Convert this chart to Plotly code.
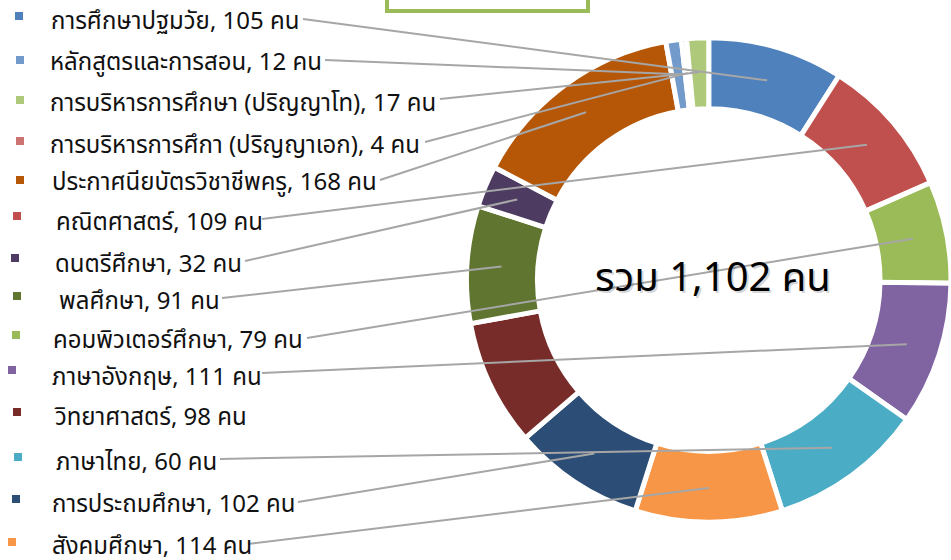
import math
import plotly.graph_objects as go

# ---------------- data ----------------
# label rows (left column, top to bottom) and the counts written in the labels
label_categories = [
    "การศึกษาปฐมวัย", "หลักสูตรและการสอน", "การบริหารการศึกษา (ปริญญาโท)",
    "การบริหารการศึกา (ปริญญาเอก)", "ประกาศนียบัตรวิชาชีพครู", "คณิตศาสตร์",
    "ดนตรีศึกษา", "พลศึกษา", "คอมพิวเตอร์ศึกษา", "ภาษาอังกฤษ",
    "วิทยาศาสตร์", "ภาษาไทย", "การประถมศึกษา", "สังคมศึกษา",
]
label_counts = [105, 12, 17, 4, 168, 109, 32, 91, 79, 111, 98, 60, 102, 114]

# slices of the ring, clockwise from 12 o'clock (values as drawn in the ring)
slice_categories = [
    "การศึกษาปฐมวัย", "คณิตศาสตร์", "คอมพิวเตอร์ศึกษา", "ภาษาอังกฤษ",
    "ภาษาไทย", "สังคมศึกษา", "การประถมศึกษา", "วิทยาศาสตร์", "พลศึกษา",
    "ดนตรีศึกษา", "ประกาศนียบัตรวิชาชีพครู", "หลักสูตรและการสอน",
    "การบริหารการศึกา (ปริญญาเอก)", "การบริหารการศึกษา (ปริญญาโท)",
]
slice_values = [105, 109, 79, 111, 120, 114, 102, 98, 91, 32, 168, 12, 4, 17]

total_text = "รวม 1,102 คน"

# ---------------- styles ----------------
colors = {
    "การศึกษาปฐมวัย": "#4F81BD",
    "คณิตศาสตร์": "#C0504D",
    "คอมพิวเตอร์ศึกษา": "#9BBB59",
    "ภาษาอังกฤษ": "#8064A2",
    "ภาษาไทย": "#4BACC6",
    "สังคมศึกษา": "#F79646",
    "การประถมศึกษา": "#2C4D75",
    "วิทยาศาสตร์": "#772C2A",
    "พลศึกษา": "#5F7530",
    "ดนตรีศึกษา": "#4D3B62",
    "ประกาศนียบัตรวิชาชีพครู": "#B65708",
    "หลักสูตรและการสอน": "#729ACA",
    "การบริหารการศึกา (ปริญญาเอก)": "#CD7371",
    "การบริหารการศึกษา (ปริญญาโท)": "#AFC97A",
}

W, H = 951, 560
FONT = "Tahoma, 'Noto Sans Thai', 'Leelawadee UI', 'Noto Sans', sans-serif"

CX, CY = 709.0, 280.0
R_OUT = 242.5
HOLE = 0.707
R_MID = (R_OUT + R_OUT * HOLE) / 2 + 1

# label layout (pixel positions)
text_x = [49, 48, 48, 48, 50, 54, 53, 57, 51, 50, 52, 54, 50, 50]
text_y = [22, 63, 104, 146, 183, 223, 265, 302, 341, 378, 418, 463, 505, 547]
mark_x = [19, 20, 20, 20, 20, 17, 15, 17, 16, 12, 17, 18, 16, 12]
mark_y = [16, 60, 100, 141, 180, 216, 258, 296, 335, 370, 412, 457, 499, 542]
line_start = [(303, 19), (325, 60), (440, 99), (425, 142), (380, 180),
              (262, 219), (245, 261), (222, 298), (307, 338), (262, 373),
              None, (220, 459), (298, 502), (248, 544)]


def px(x):
    return x / W


def py(y):
    return 1 - y / H


fig = go.Figure()
fig.add_trace(go.Pie(
    labels=slice_categories,
    values=slice_values,
    marker=dict(colors=[colors[c] for c in slice_categories],
                line=dict(color="white", width=5)),
    hole=HOLE,
    sort=False,
    direction="clockwise",
    rotation=0,
    textinfo="none",
    hoverinfo="label+value",
    domain=dict(x=[px(CX - R_OUT), 1.0],
                y=[py(CY + R_OUT), py(CY - R_OUT)]),
    showlegend=False,
))

# slice mid-point positions from the data (for leader lines)
tot = sum(slice_values)
mid_pos = {}
acc = 0.0
for c, v in zip(slice_categories, slice_values):
    a = (acc + v / 2) / tot * 2 * math.pi
    mid_pos[c] = (CX + R_MID * math.sin(a), CY - R_MID * math.cos(a))
    acc += v

shapes = []
annotations = []
for i, (c, n) in enumerate(zip(label_categories, label_counts)):
    annotations.append(dict(
        x=px(text_x[i]), y=py(text_y[i]), xref="paper", yref="paper",
        xanchor="left", yanchor="middle", showarrow=False,
        text=f"{c}, {n} คน",
        font=dict(family=FONT, size=24, color="#111111"),
    ))
    shapes.append(dict(
        type="rect", xref="paper", yref="paper",
        x0=px(mark_x[i] - 4), x1=px(mark_x[i] + 4),
        y0=py(mark_y[i] + 4), y1=py(mark_y[i] - 4),
        fillcolor=colors[c], line=dict(width=0),
    ))
    if line_start[i] is not None:
        sx, sy = line_start[i]
        ex, ey = mid_pos[c]
        shapes.append(dict(
            type="line", xref="paper", yref="paper",
            x0=px(sx), y0=py(sy), x1=px(ex), y1=py(ey),
            line=dict(color="#A6A6A6", width=2), layer="above",
        ))

# title box, mostly above the visible area
shapes.append(dict(type="rect", xref="paper", yref="paper",
                   x0=px(387), x1=px(588), y0=py(11), y1=py(-30),
                   line=dict(color="#9BBB59", width=4), fillcolor="rgba(0,0,0,0)"))

# centre total with soft shadow
annotations.append(dict(
    x=px(714.5), y=py(281), xref="paper", yref="paper", showarrow=False,
    text=total_text, font=dict(family=FONT, size=40, color="rgba(0,0,0,0.18)"),
    xanchor="center", yanchor="middle"))
annotations.append(dict(
    x=px(713), y=py(279), xref="paper", yref="paper", showarrow=False,
    text=total_text, font=dict(family=FONT, size=40, color="#000000"),
    xanchor="center", yanchor="middle"))

fig.update_layout(
    width=W, height=H,
    margin=dict(l=0, r=0, t=0, b=0),
    paper_bgcolor="white", plot_bgcolor="white",
    shapes=shapes, annotations=annotations,
    showlegend=False,
)

fig.write_html("out.html",
               config={"displayModeBar": False},
               post_script="document.body.style.margin='0';"
                           "document.body.style.overflow='hidden';")
